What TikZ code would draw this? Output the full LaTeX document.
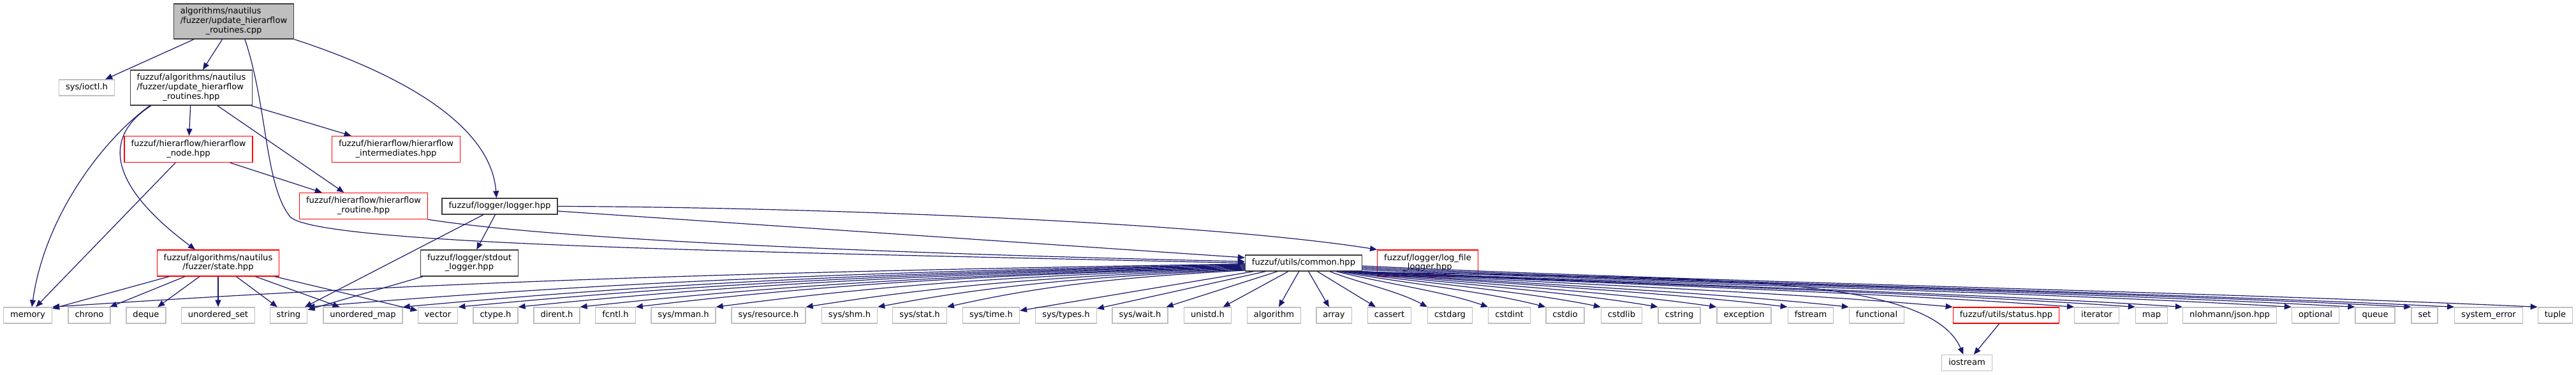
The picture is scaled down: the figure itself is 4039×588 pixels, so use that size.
\documentclass[tikz,border=0pt]{standalone}
\usepackage{fontspec}
\setmainfont{DejaVu Sans}
\usetikzlibrary{arrows.meta}
\definecolor{edgeblue}{RGB}{25,25,112}
\definecolor{rootgray}{RGB}{191,191,191}
\definecolor{framegray}{RGB}{64,64,64}
\newcommand{\lbltwo}[2]{\begin{tabular}{@{}c@{}}#1\\#2\end{tabular}}
\newcommand{\lblthree}[3]{\begin{tabular}{@{}l@{}}#1\\#2\\\multicolumn{1}{@{}c@{}}{#3}\end{tabular}}

\begin{document}
\begin{tikzpicture}[x=1pt,y=-1pt,
  font=\fontsize{13.1}{14.7}\selectfont,
  box/.style={line width=1.3pt,fill=white,inner xsep=10.5pt,inner ysep=0pt},
  one/.style={minimum height=25pt,text height=9.6pt,text depth=2.9pt},
  two/.style={minimum height=41pt},
  three/.style={minimum height=55pt},
  sys/.style={box,one,draw=rootgray},
  hdr/.style={box,draw=framegray},
  cut/.style={box,draw=red},
  inc/.style={draw=edgeblue,line width=1.2pt,-{Triangle[length=11pt,width=9pt]}}]
\useasboundingbox (0,0) rectangle (4039,588);

% upper part
\node[box,three,draw=framegray,fill=rootgray] (root) at (366.5,33.5) {\lblthree{algorithms/nautilus}{/fuzzer/update\_hierarflow}{\_routines.cpp}};
\node[sys] (ioctl) at (136,137.5) {sys/ioctl.h};
\node[hdr,three] (upd) at (300,137.5) {\lblthree{fuzzuf/algorithms/nautilus}{/fuzzer/update\_hierarflow}{\_routines.hpp}};
\node[cut,two] (hnode) at (295.5,234) {\lbltwo{fuzzuf/hierarflow/hierarflow}{\_node.hpp}};
\node[cut,two] (hinter) at (621,234) {\lbltwo{fuzzuf/hierarflow/hierarflow}{\_intermediates.hpp}};
\node[cut,two] (hroutine) at (570,323) {\lbltwo{fuzzuf/hierarflow/hierarflow}{\_routine.hpp}};
\node[hdr,one] (logger) at (783.5,323.5) {fuzzuf/logger/logger.hpp};
\node[cut,two] (state) at (342,412.5) {\lbltwo{fuzzuf/algorithms/nautilus}{/fuzzer/state.hpp}};
\node[hdr,two] (stdout) at (736,412.5) {\lbltwo{fuzzuf/logger/stdout}{\_logger.hpp}};
\node[hdr,one] (cmn) at (2044,412.5) {fuzzuf/utils/common.hpp};
\node[cut,two] (logfile) at (2238.5,412.5) {\lbltwo{fuzzuf/logger/log\_file}{\_logger.hpp}};

% bottom row
\node[sys] (memory) at (43.5,494.5) {memory};
\node[sys] (chrono) at (140,494.5) {chrono};
\node[sys] (deque) at (229,494.5) {deque};
\node[sys] (uset) at (342,494.5) {unordered\_set};
\node[sys] (string) at (452.5,494.5) {string};
\node[sys] (umap) at (569,494.5) {unordered\_map};
\node[sys] (vector) at (686.5,494.5) {vector};
\node[sys] (ctype) at (777,494.5) {ctype.h};
\node[sys] (dirent) at (873,494.5) {dirent.h};
\node[sys] (fcntl) at (965,494.5) {fcntl.h};
\node[sys] (mman) at (1071.5,494.5) {sys/mman.h};
\node[sys] (resource) at (1205,494.5) {sys/resource.h};
\node[sys] (shm) at (1332,494.5) {sys/shm.h};
\node[sys] (sstat) at (1442,494.5) {sys/stat.h};
\node[sys] (stime) at (1554,494.5) {sys/time.h};
\node[sys] (stypes) at (1671.5,494.5) {sys/types.h};
\node[sys] (swait) at (1787.5,494.5) {sys/wait.h};
\node[sys] (unistd) at (1893.5,494.5) {unistd.h};
\node[sys] (algorithm) at (1997.5,494.5) {algorithm};
\node[sys] (array) at (2091.5,494.5) {array};
\node[sys] (cassert) at (2178.5,494.5) {cassert};
\node[sys] (cstdarg) at (2273.5,494.5) {cstdarg};
\node[sys] (cstdint) at (2366.5,494.5) {cstdint};
\node[sys] (cstdio) at (2454,494.5) {cstdio};
\node[sys] (cstdlib) at (2542.5,494.5) {cstdlib};
\node[sys] (cstring) at (2633,494.5) {cstring};
\node[sys] (exception) at (2734.5,494.5) {exception};
\node[sys] (fstream) at (2839,494.5) {fstream};
\node[sys] (functional) at (2942.5,494.5) {functional};
\node[cut,one] (status) at (3145.5,494.5) {fuzzuf/utils/status.hpp};
\node[sys] (iterator) at (3287.5,494.5) {iterator};
\node[sys] (map) at (3373.5,494.5) {map};
\node[sys] (json) at (3496,494.5) {nlohmann/json.hpp};
\node[sys] (optional) at (3630.5,494.5) {optional};
\node[sys] (queue) at (3724,494.5) {queue};
\node[sys] (set) at (3801.5,494.5) {set};
\node[sys] (syserr) at (3902,494.5) {system\_error};
\node[sys] (tuple) at (4006.5,494.5) {tuple};
\node[sys] (iostream) at (3084,569) {iostream};

% edges from the upper files
\draw[inc] (root) -- (ioctl);
\draw[inc] (root) -- (upd);
\draw[inc] ([xshift=17.5pt]root.south) .. controls (420,170) and (415,290) .. (455,340) .. controls (500,385) and (1200,395) .. (cmn.west);
\draw[inc] (root.south east) .. controls (640,120) and (770,200) .. ([xshift=-5pt]logger.north);
\draw[inc] (upd) -- (hnode);
\draw[inc] (upd) -- (hinter);
\draw[inc] (upd) -- (hroutine);
\draw[inc] ([xshift=-65pt]upd.south) .. controls (160,220) and (70,340) .. ([xshift=6.5pt]memory.north);
\draw[inc] ([xshift=-63pt]upd.south) .. controls (160,215) and (170,290) .. ([xshift=-36pt]state.north);
\draw[inc] (hnode) -- (memory);
\draw[inc] (hnode) -- (hroutine);
\draw[inc] (hroutine.south east) .. controls (900,380) and (1500,400) .. ([yshift=2.5pt]cmn.west);
\draw[inc] (logger) -- (stdout);
\draw[inc] (logger) -- (string);
\draw[inc] ([yshift=-7.5pt]logger.east) -- ([yshift=8.5pt]cmn.west);
\draw[inc] (logger.east) .. controls (1300,325) and (1900,350) .. (logfile.north west);
\draw[inc] (state) -- (memory);
\draw[inc] (state) -- (chrono);
\draw[inc] (state) -- (deque);
\draw[inc] (state) -- (uset);
\draw[inc] (state) -- (string);
\draw[inc] (state) -- (umap);
\draw[inc] (state) -- (vector);
\draw[inc] (stdout) -- (string);

% common.hpp, to the left
\draw[inc] ([yshift=-1.5pt]cmn.west) .. controls +(-935,14) and +(468,-31) .. (memory.north east);
\draw[inc] ([yshift=-2.5pt]cmn.west) .. controls +(-735,13) and +(368,-30) .. (string.north east);
\draw[inc] ([yshift=-3.5pt]cmn.west) .. controls +(-661,13) and +(330,-30) .. (umap.north east);
\draw[inc] ([yshift=-4.5pt]cmn.west) .. controls +(-617,13) and +(309,-29) .. (vector.north east);
\draw[inc] ([yshift=-5.5pt]cmn.west) .. controls +(-570,13) and +(285,-29) .. (ctype.north east);
\draw[inc] ([yshift=-6.5pt]cmn.west) .. controls +(-522,13) and +(261,-28) .. (dirent.north east);
\draw[inc] ([yshift=-7.5pt]cmn.west) .. controls +(-478,12) and +(239,-28) .. (fcntl.north east);
\draw[inc] ([yshift=-8.5pt]cmn.west) .. controls +(-415,12) and +(207,-27) .. (mman.north east);
\draw[inc] ([yshift=-9.5pt]cmn.west) .. controls +(-345,12) and +(172,-27) .. (resource.north east);
\draw[inc] ([yshift=-10.5pt]cmn.west) .. controls +(-288,12) and +(144,-27) .. (shm.north east);
\draw[inc] ([yshift=-11.5pt]cmn.west) .. controls +(-234,12) and +(117,-26) .. (sstat.north east);
\draw[inc] (cmn) -- (stime);
\draw[inc] (cmn) -- (stypes);
\draw[inc] (cmn) -- (swait);
\draw[inc] (cmn) -- (unistd);
\draw[inc] (cmn) -- (algorithm);
\draw[inc] (cmn) -- (array);
\draw[inc] (cmn) -- (cassert);

% common.hpp, to the right
\draw[inc] ([xshift=41pt]cmn.south) .. controls +(46,18) and +(-46,-25) .. (cstdarg.north west);
\draw[inc] ([xshift=51pt]cmn.south) .. controls +(71,18) and +(-71,-25) .. (cstdint.north west);
\draw[inc] ([xshift=56pt]cmn.south) .. controls +(97,18) and +(-97,-25) .. (cstdio.north west);
\draw[inc] ([xshift=61pt]cmn.south) .. controls +(122,18) and +(-122,-25) .. (cstdlib.north west);
\draw[inc] ([xshift=66pt]cmn.south) .. controls +(147,18) and +(-147,-25) .. (cstring.north west);
\draw[inc] ([xshift=71pt]cmn.south) .. controls +(173,18) and +(-173,-25) .. (exception.north west);
\draw[inc] ([xshift=74pt]cmn.south) .. controls +(205,18) and +(-205,-25) .. (fstream.north west);
\draw[inc] ([xshift=77pt]cmn.south) .. controls +(233,18) and +(-233,-25) .. (functional.north west);
\draw[inc] ([xshift=80pt]cmn.south) .. controls +(281,18) and +(-281,-25) .. (status.north west);
\draw[inc] ([xshift=83pt]cmn.south) .. controls +(338,18) and +(-338,-25) .. (iterator.north west);
\draw[inc] ([xshift=86pt]cmn.south) .. controls +(365,18) and +(-365,-25) .. (map.north west);
\draw[inc] ([xshift=88pt]cmn.south) .. controls +(387,18) and +(-387,-25) .. (json.north west);
\draw[inc] ([xshift=90pt]cmn.south) .. controls +(438,18) and +(-438,-25) .. (optional.north west);
\draw[inc] ([yshift=-10.5pt]cmn.east) .. controls +(467,20) and +(-467,-25) .. (queue.north west);
\draw[inc] ([yshift=-8.5pt]cmn.east) .. controls +(494,22) and +(-494,-25) .. (set.north west);
\draw[inc] ([yshift=-6.5pt]cmn.east) .. controls +(514,24) and +(-514,-25) .. (syserr.north west);
\draw[inc] ([yshift=-4.5pt]cmn.east) .. controls +(553,26) and +(-553,-25) .. (tuple.north west);
\draw[inc] ([xshift=76pt]cmn.south) .. controls (2600,440) and (3020,420) .. (iostream);
\draw[inc] (status) -- (iostream);
\end{tikzpicture}
\end{document}
